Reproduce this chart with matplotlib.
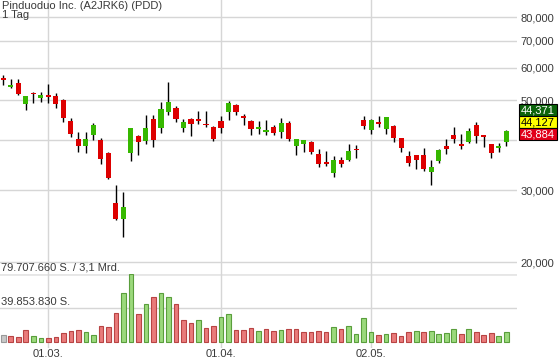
import matplotlib
matplotlib.use('Agg')
import matplotlib.pyplot as plt
from matplotlib.ticker import NullLocator
from matplotlib.patches import Rectangle
import numpy as np

plt.rcParams['font.family'] = ['Liberation Sans', 'DejaVu Sans']

# daily candles, PDD (price in USD, shown with 3 decimals)
opens = [56.5, 53.9, 55.05, 49.0, 52.0, 50.7, 51.6, 51.1, 50.0, 44.4,
         40.1, 38.5, 41.0, 39.9, 37.0, 27.9, 25.5, 37.1, 40.8, 39.7,
         44.9, 42.75, 46.8, 47.7, 42.75, 44.9, 45.0, 43.7, 42.9, 44.4,
         46.8, 48.6, 45.7, 44.4, 42.5, 41.7, 42.9, 41.7, 43.9, 38.5,
         39.0, 39.4, 36.8, 35.2, 33.1, 35.6, 35.6, 37.9, 44.65, 42.2,
         43.9, 42.5, 43.2, 40.3, 36.4, 36.6, 36.6, 33.3, 35.5, 38.5,
         41.0, 39.0, 39.4, 43.4, 40.8, 39.0, 38.2, 39.5]
closes = [56.1, 54.4, 51.7, 51.1, 51.7, 51.6, 50.9, 48.9, 45.2, 41.3,
          38.5, 40.1, 43.4, 35.9, 32.2, 25.5, 27.3, 42.7, 39.5, 42.7,
          39.9, 47.5, 49.4, 45.0, 44.2, 43.7, 44.5, 43.4, 40.2, 42.75,
          49.2, 46.8, 45.2, 42.5, 42.7, 42.2, 41.5, 43.9, 40.1, 40.1,
          39.9, 37.3, 34.8, 34.8, 35.6, 34.8, 37.5, 37.7, 43.2, 44.65,
          43.7, 45.4, 40.4, 38.2, 35.1, 35.7, 33.9, 34.2, 37.7, 38.0,
          40.2, 38.6, 41.96, 40.9, 40.6, 37.1, 38.3, 42.0]
highs = [57.6, 56.5, 56.5, 51.1, 52.2, 52.2, 54.7, 52.0, 50.3, 45.3,
         41.7, 41.7, 44.0, 40.3, 37.2, 30.9, 29.8, 42.8, 41.0, 45.9,
         45.9, 49.4, 55.4, 48.3, 44.9, 45.2, 47.0, 47.0, 43.1, 45.7,
         49.7, 48.9, 46.2, 44.65, 44.4, 44.65, 43.4, 45.2, 44.4, 40.1,
         39.9, 39.65, 37.9, 37.5, 36.4, 36.2, 39.0, 38.8, 45.7, 44.9,
         45.7, 45.4, 43.4, 40.3, 37.5, 36.6, 38.1, 35.6, 37.9, 40.1,
         42.9, 41.3, 42.7, 44.2, 40.8, 39.0, 39.2, 42.2]
lows = [54.6, 53.6, 51.4, 47.3, 49.2, 49.5, 49.1, 47.7, 44.2, 40.6,
        37.3, 37.1, 39.9, 34.9, 32.0, 25.3, 23.1, 35.5, 36.7, 39.1,
        38.4, 41.6, 46.0, 44.2, 41.8, 40.9, 43.7, 43.0, 39.7, 41.6,
        44.7, 46.0, 43.5, 41.1, 41.3, 41.0, 41.0, 40.3, 39.65, 36.6,
        37.3, 36.8, 34.2, 34.4, 32.35, 34.2, 35.4, 36.0, 42.4, 41.3,
        42.9, 41.3, 39.5, 37.3, 34.5, 33.9, 33.5, 31.0, 35.1, 36.9,
        39.3, 38.0, 39.3, 39.3, 38.4, 36.1, 37.3, 38.6]

# volume in millions of shares, colour by day
volume = [8.0, 7.2, 6.0, 14.0, 6.8, 5.2, 4.4, 6.0, 10.7, 13.1,
          14.0, 11.2, 8.0, 18.7, 17.5, 33.9, 57.7, 79.7, 33.0, 44.1,
          53.3, 56.9, 53.3, 44.1, 26.2, 22.3, 25.9, 16.0, 18.7, 29.8,
          33.0, 14.0, 14.0, 16.0, 13.1, 15.2, 13.1, 14.3, 14.8, 14.8,
          11.6, 11.6, 12.8, 11.9, 17.2, 15.2, 19.1, 8.8, 27.9, 11.2,
          8.0, 8.8, 10.4, 7.2, 11.6, 12.8, 11.6, 12.8, 9.2, 10.4,
          15.5, 8.8, 14.8, 11.9, 8.0, 10.0, 7.2, 11.2]
vol_dir = list('nrrrggrrrr' 'rggrrrggrg' 'rggrrrgrrg' 'grrrgrrgrr'
               'rrrrgrgggg' 'rgrrrgrggg' 'grgrrrgg')

date_pos = [6, 29, 49]
date_labels = ['01.03.', '01.04.', '02.05.']
price_ticks = [20, 30, 40, 50, 60, 70, 80]
price_labels = ['20,000', '30,000', '', '50,000', '60,000', '70,000', '80,000']
vol_lines = [39.853830, 79.707660]
vol_texts = ['39.853.830 S.', '79.707.660 S. / 3,1 Mrd.']
quotes = ['44,371', '44,127', '43,884']

W, H = 560, 362
fig = plt.figure(figsize=(W / 100, H / 100), dpi=100)
fig.patch.set_facecolor('white')

grid_c = '#d6d6d6'
txt_c = '#3a3a3a'
x = np.arange(len(opens))
xlim = (-0.44, 68.43)

# price panel
ax = fig.add_axes([0, 1 - 274 / H, 517 / W, 274 / H])
ax.set_yscale('log')
ax.set_ylim(18.69, 88.1)
ax.set_xlim(*xlim)
ax.yaxis.set_minor_locator(NullLocator())
ax.set_yticks(price_ticks)
ax.set_yticklabels(price_labels)
ax.yaxis.tick_right()
ax.tick_params(axis='y', length=0, pad=2.5, labelsize=8, labelcolor=txt_c)
ax.set_xticks(date_pos)
ax.tick_params(axis='x', length=0, labelbottom=False)
ax.grid(True, color=grid_c, linewidth=1.0)
ax.set_axisbelow(True)
for s in ax.spines.values():
    s.set_visible(False)

o = np.array(opens)
c = np.array(closes)
up = c >= o
colors = np.where(up, '#36b800', '#dd0000')
ax.vlines(x, lows, highs, color='black', linewidth=1.0, zorder=2)
bottom = np.minimum(o, c)
height = np.maximum(np.abs(c - o), bottom * 0.008)
ax.bar(x, height, bottom=bottom, width=0.68, color=colors, linewidth=0, zorder=3)

# volume panel
axv = fig.add_axes([0, 14 / H, 517 / W, 74 / H])
axv.set_xlim(*xlim)
axv.set_ylim(-7.03, 79.707660)
axv.set_yticks([])
axv.set_xticks(date_pos)
axv.set_xticklabels(date_labels)
axv.tick_params(axis='x', length=0, pad=1, labelsize=8, labelcolor=txt_c)
axv.grid(True, axis='x', color=grid_c, linewidth=1.0)
axv.set_axisbelow(True)
axv.patch.set_alpha(0)
for s in axv.spines.values():
    s.set_visible(False)
axv.axhline(vol_lines[0], color=grid_c, linewidth=1.0, zorder=0)
axv.axhline(vol_lines[1], color='#e6e6e6', linewidth=2.0, zorder=0)

fills = {'r': '#e97b7b', 'g': '#9bd97c', 'n': '#c8c8c8'}
edges = {'r': '#b84444', 'g': '#5a9e3c', 'n': '#999999'}
axv.bar(x, volume, width=0.62,
        color=[fills[d] for d in vol_dir],
        edgecolor=[edges[d] for d in vol_dir], linewidth=0.8, zorder=3)

for val, t in zip(vol_lines, vol_texts):
    axv.annotate(t, xy=(0, val), xycoords=('axes fraction', 'data'),
                 xytext=(1, 1), textcoords='offset pixels',
                 fontsize=8, color=txt_c, va='bottom', ha='left')

# header
fig.text(2 / W, 1 - 6 / H, 'Pinduoduo Inc. (A2JRK6) (PDD)', fontsize=8,
         color=txt_c, va='center', ha='left')
fig.text(2 / W, 1 - 15.5 / H, '1 Tag', fontsize=8, color=txt_c,
         va='center', ha='left')

# quote boxes on the right
box_fc = ['#0b640b', '#ffff00', '#e2001a']
box_tc = ['white', 'black', 'white']
box_top = [104.3, 116.3, 128.3]
for q, fc, tc, top in zip(quotes, box_fc, box_tc, box_top):
    r = Rectangle((518.5 / W, 1 - (top + 11.7) / H), 38 / W, 11.7 / H,
                  transform=fig.transFigure, facecolor=fc,
                  edgecolor='black', linewidth=0.8, zorder=5)
    fig.add_artist(r)
    fig.text(537.5 / W, 1 - (top + 6) / H, q, fontsize=8, color=tc,
             ha='center', va='center', zorder=6)

fig.savefig('out.png', dpi=100, facecolor='white')
